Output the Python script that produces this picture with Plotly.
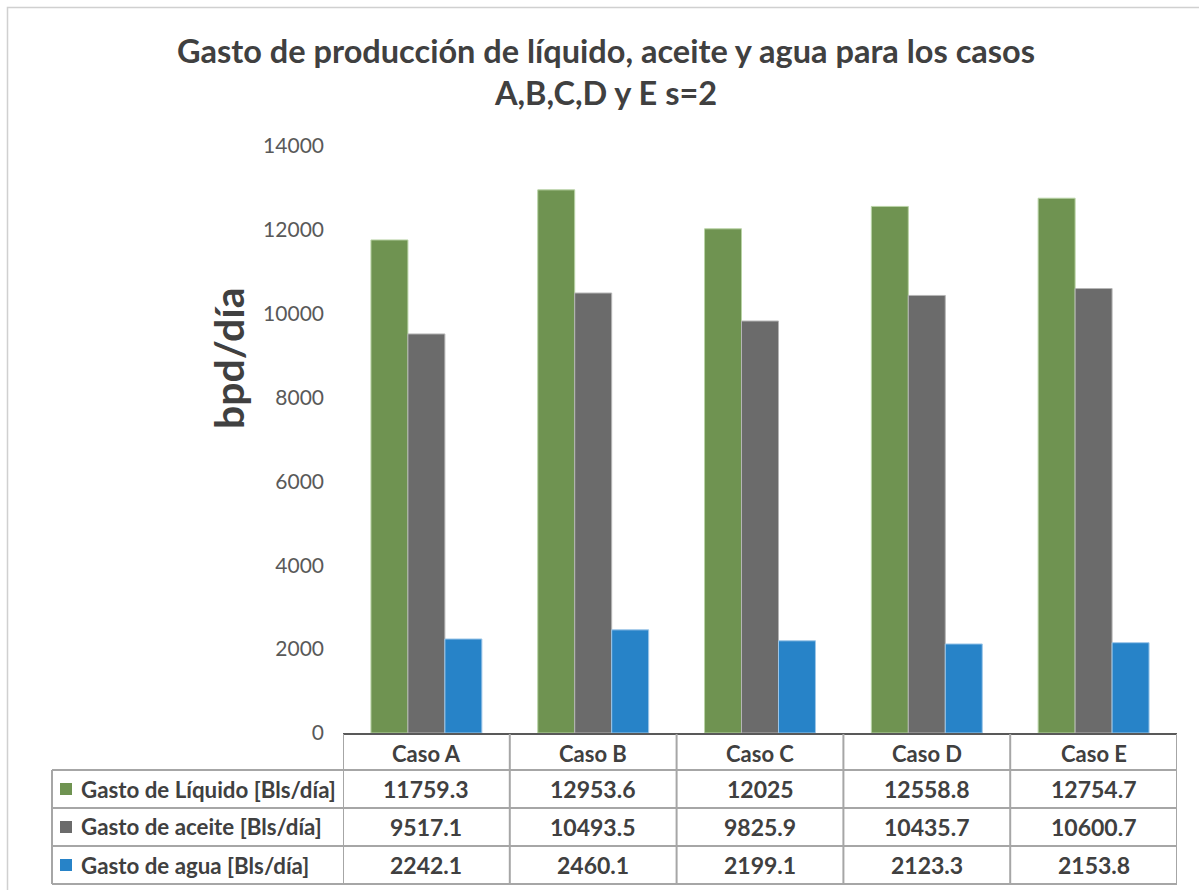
import plotly.graph_objects as go

# Data
casos = ["Caso A", "Caso B", "Caso C", "Caso D", "Caso E"]
liquido = [11759.3, 12953.6, 12025, 12558.8, 12754.7]
aceite = [9517.1, 10493.5, 9825.9, 10435.7, 10600.7]
agua = [2242.1, 2460.1, 2199.1, 2123.3, 2153.8]
series_names = ["Gasto de Líquido [Bls/día]", "Gasto de aceite [Bls/día]", "Gasto de agua [Bls/día]"]
y_ticks = [0, 2000, 4000, 6000, 8000, 10000, 12000, 14000]

colors = ["#6F9351", "#6B6B6B", "#2783C8"]
edge_colors = ["#B9D3A6", "#B5B5B5", "#9CC6E8"]
series_values = [liquido, aceite, agua]

W, H = 1199, 890
L, R, T, B = 343, 22, 146, 157
plot_w = W - L - R
plot_h = H - T - B


def px_x(px):
    return (px - L) / plot_w


def px_y(py):
    return (H - B - py) / plot_h


FONT = "Lato"
TXT = "#404040"

fig = go.Figure()
for name, vals, c, ec in zip(series_names, series_values, colors, edge_colors):
    fig.add_trace(go.Bar(
        x=casos, y=vals, name=name,
        marker=dict(color=c, line=dict(color=ec, width=1)),
        showlegend=False,
    ))

shapes = []
annotations = []

# Outer chart frame (top and left edges fall inside the page)
shapes.append(dict(type="rect", xref="paper", yref="paper",
                   x0=px_x(7.5), x1=px_x(1210), y0=px_y(7.5), y1=px_y(900),
                   line=dict(color="#D0D0D0", width=1.5), fillcolor="rgba(0,0,0,0)", layer="below"))

# Data table grid
row_lines = [734, 770, 808, 846, 884]
grid = dict(color="#A6A6A6", width=2)
for py in row_lines[1:]:
    shapes.append(dict(type="line", xref="paper", yref="paper",
                       x0=px_x(52), x1=1, y0=px_y(py), y1=px_y(py), line=grid))
for i in range(len(casos) + 1):
    shapes.append(dict(type="line", xref="x", yref="paper",
                       x0=i - 0.5, x1=i - 0.5, y0=px_y(row_lines[0]), y1=px_y(row_lines[-1]), line=grid))
shapes.append(dict(type="line", xref="paper", yref="paper",
                   x0=px_x(52), x1=px_x(52), y0=px_y(row_lines[1]), y1=px_y(row_lines[-1]), line=grid))

# header row
header_y = px_y((row_lines[0] + row_lines[1]) / 2 + 1)
for i, c in enumerate(casos):
    annotations.append(dict(x=i, y=header_y, xref="x", yref="paper", text=f"<b>{c}</b>",
                            xanchor="center", yanchor="middle", showarrow=False,
                            font=dict(family=FONT, size=22, color=TXT)))

# value rows with legend keys
for r, (name, vals, col) in enumerate(zip(series_names, series_values, colors)):
    cy = (row_lines[r + 1] + row_lines[r + 2]) / 2
    shapes.append(dict(type="rect", xref="paper", yref="paper",
                       x0=px_x(60), x1=px_x(72), y0=px_y(cy - 6), y1=px_y(cy + 6),
                       fillcolor=col, line=dict(width=0)))
    annotations.append(dict(x=px_x(79), y=px_y(cy), xref="paper", yref="paper",
                            text=f"<b>{name}</b>", xanchor="left", yanchor="middle", showarrow=False,
                            font=dict(family=FONT, size=22.3, color=TXT)))
    for i, v in enumerate(vals):
        annotations.append(dict(x=i, y=px_y(cy), xref="x", yref="paper", text=f"<b>{v:g}</b>",
                                xanchor="center", yanchor="middle", showarrow=False,
                                font=dict(family=FONT, size=23, color=TXT)))

# y-axis title
annotations.append(dict(x=px_x(228), y=px_y(358), xref="paper", yref="paper",
                        text="<b>bpd/día</b>", textangle=-90, xanchor="center", yanchor="middle",
                        showarrow=False, font=dict(family=FONT, size=41, color=TXT)))

# chart title
annotations.append(dict(x=px_x(606), y=px_y(72), xref="paper", yref="paper",
                        text="<b>Gasto de producción de líquido, aceite y agua para los casos<br>A,B,C,D y E s=2</b>",
                        xanchor="center", yanchor="middle", showarrow=False,
                        font=dict(family=FONT, size=32.5, color=TXT)))

fig.update_layout(
    width=W, height=H,
    margin=dict(l=L, r=R, t=T, b=B),
    paper_bgcolor="white", plot_bgcolor="white",
    barmode="group", bargap=0.335, bargroupgap=0,
    shapes=shapes, annotations=annotations,
    font=dict(family=FONT, color="#595959"),
    xaxis=dict(range=[-0.5, len(casos) - 0.5], showticklabels=False, ticks="",
               showline=True, linecolor="#595959", linewidth=2, showgrid=False, zeroline=False),
    yaxis=dict(range=[0, 14000], tickvals=y_ticks, ticktext=[str(v) for v in y_ticks],
               showgrid=False, zeroline=False, showline=False, ticks="", ticklabelstandoff=18,
               tickfont=dict(family=FONT, size=21, color="#595959")),
)

fig.write_html("out.html")
